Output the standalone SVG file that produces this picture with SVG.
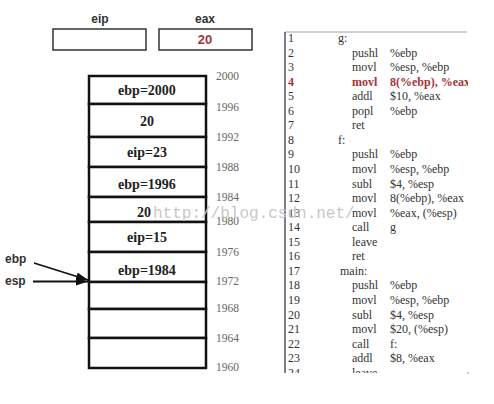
<svg xmlns="http://www.w3.org/2000/svg" width="494" height="404" viewBox="0 0 494 404">
<style>
.reglab{font-family:"Liberation Sans",Arial,sans-serif;font-weight:bold;font-size:12px;fill:#333;text-anchor:middle}
.regbox{fill:#fff;stroke:#333;stroke-width:1.5}
.cell{fill:#fff;stroke:#111;stroke-width:2.5}
.cv{font-family:"Liberation Serif","Times New Roman",serif;font-weight:bold;font-size:14px;fill:#222;text-anchor:middle}
.addr{font-family:"Liberation Serif","Times New Roman",serif;font-size:11.5px;fill:#666}
.ptr{font-family:"Liberation Sans",Arial,sans-serif;font-weight:bold;font-size:12px;fill:#333}
.code{font-family:"Liberation Serif","Times New Roman",serif;font-size:12px;fill:#333}
.red{fill:#a3333b;font-weight:bold}
.wm{font-family:"Liberation Mono","Courier New",monospace;font-size:16px;fill:#c8c8c8}
</style>
<defs>
<marker id="ah" markerWidth="12" markerHeight="8" refX="12" refY="4" orient="auto" markerUnits="userSpaceOnUse">
<path d="M0,0 L12,4 L0,8 Z" fill="#111"/>
</marker>
<clipPath id="codeclip"><rect x="285" y="30" width="183" height="343"/></clipPath>
</defs>
<rect width="494" height="404" fill="#fff"/>

<g id="reg-eip">
<text class="reglab" x="100" y="23">eip</text>
<rect class="regbox" x="53" y="29" width="93" height="21"/>
</g>
<g id="reg-eax">
<text class="reglab" x="205" y="23">eax</text>
<rect class="regbox" x="159" y="29" width="93" height="21"/>
<text class="reglab" x="205" y="44" style="fill:#a3333b;font-size:13px">20</text>
</g>

<g id="stack">
<g id="cell-2000"><rect class="cell" x="89" y="76" width="117" height="28"/><text class="cv" x="147" y="95">ebp=2000</text></g>
<g id="cell-1996"><rect class="cell" x="89" y="104" width="117" height="33"/><text class="cv" x="147" y="126">20</text></g>
<g id="cell-1992"><rect class="cell" x="89" y="137" width="117" height="30"/><text class="cv" x="147" y="157">eip=23</text></g>
<g id="cell-1988"><rect class="cell" x="89" y="167" width="117" height="30"/><text class="cv" x="147" y="189">ebp=1996</text></g>
<g id="cell-1984"><rect class="cell" x="89" y="197" width="117" height="25"/><text class="cv" x="144" y="217">20</text></g>
<g id="cell-1980"><rect class="cell" x="89" y="222" width="117" height="30"/><text class="cv" x="147" y="242">eip=15</text></g>
<g id="cell-1976"><rect class="cell" x="89" y="252" width="117" height="30"/><text class="cv" x="147" y="275">ebp=1984</text></g>
<g id="cell-1972"><rect class="cell" x="89" y="282" width="117" height="27"/></g>
<g id="cell-1968"><rect class="cell" x="89" y="309" width="117" height="29"/></g>
<g id="cell-1964"><rect class="cell" x="89" y="338" width="117" height="30"/></g>
</g>

<g id="addresses">
<text class="addr" x="216" y="80">2000</text>
<text class="addr" x="216" y="111">1996</text>
<text class="addr" x="216" y="141">1992</text>
<text class="addr" x="216" y="171">1988</text>
<text class="addr" x="216" y="201">1984</text>
<text class="addr" x="216" y="225">1980</text>
<text class="addr" x="216" y="256">1976</text>
<text class="addr" x="216" y="285">1972</text>
<text class="addr" x="216" y="312">1968</text>
<text class="addr" x="216" y="342">1964</text>
<text class="addr" x="216" y="371">1960</text>
</g>

<g id="ptr-ebp"><text class="ptr" x="5" y="263">ebp</text></g>
<g id="ptr-esp"><text class="ptr" x="5" y="285">esp</text></g>
<g id="connectors">
<line x1="34" y1="263" x2="88" y2="280" stroke="#111" stroke-width="1.8" marker-end="url(#ah)"/>
<line x1="33" y1="281.5" x2="88" y2="281.5" stroke="#111" stroke-width="1.8" marker-end="url(#ah)"/>
</g>

<g id="code">
<line x1="285" y1="32" x2="467" y2="32" stroke="#9aa0b4" stroke-width="1.2"/>
<line x1="285" y1="32" x2="285" y2="373" stroke="#5a5f80" stroke-width="1.6"/>
<circle cx="468" cy="373" r="0.8" fill="#888"/>
<g clip-path="url(#codeclip)" class="code">
<text x="288" y="42">1</text><text x="338" y="42">g:</text>
<text x="288" y="56.6">2</text><text x="352" y="56.6">pushl</text><text x="390" y="56.6">%ebp</text>
<text x="288" y="71.1">3</text><text x="352" y="71.1">movl</text><text x="390" y="71.1">%esp, %ebp</text>
<text x="288" y="85.7" class="code red">4</text><text x="352" y="85.7" class="code red">movl</text><text x="390" y="85.7" class="code red">8(%ebp), %eax</text>
<text x="288" y="100.2">5</text><text x="352" y="100.2">addl</text><text x="390" y="100.2">$10, %eax</text>
<text x="288" y="114.8">6</text><text x="352" y="114.8">popl</text><text x="390" y="114.8">%ebp</text>
<text x="288" y="129.3">7</text><text x="352" y="129.3">ret</text>
<text x="288" y="143.9">8</text><text x="338" y="143.9">f:</text>
<text x="288" y="158.4">9</text><text x="352" y="158.4">pushl</text><text x="390" y="158.4">%ebp</text>
<text x="288" y="173">10</text><text x="352" y="173">movl</text><text x="390" y="173">%esp, %ebp</text>
<text x="288" y="187.5">11</text><text x="352" y="187.5">subl</text><text x="390" y="187.5">$4, %esp</text>
<text x="288" y="202.1">12</text><text x="352" y="202.1">movl</text><text x="390" y="202.1">8(%ebp), %eax</text>
<text x="288" y="216.6">13</text><text x="352" y="216.6">movl</text><text x="390" y="216.6">%eax, (%esp)</text>
<text x="288" y="231.2">14</text><text x="352" y="231.2">call</text><text x="390" y="231.2">g</text>
<text x="288" y="245.7">15</text><text x="352" y="245.7">leave</text>
<text x="288" y="260.3">16</text><text x="352" y="260.3">ret</text>
<text x="288" y="274.8">17</text><text x="340" y="274.8">main:</text>
<text x="288" y="289.4">18</text><text x="352" y="289.4">pushl</text><text x="390" y="289.4">%ebp</text>
<text x="288" y="303.9">19</text><text x="352" y="303.9">movl</text><text x="390" y="303.9">%esp, %ebp</text>
<text x="288" y="318.5">20</text><text x="352" y="318.5">subl</text><text x="390" y="318.5">$4, %esp</text>
<text x="288" y="333">21</text><text x="352" y="333">movl</text><text x="390" y="333">$20, (%esp)</text>
<text x="288" y="347.6">22</text><text x="352" y="347.6">call</text><text x="390" y="347.6">f:</text>
<text x="288" y="362.1">23</text><text x="352" y="362.1">addl</text><text x="390" y="362.1">$8, %eax</text>
<text x="288" y="376.7">24</text><text x="352" y="376.7">leave</text>
</g>
</g>

<text class="wm" x="153" y="218">http://blog.csdn.net/</text>
</svg>
